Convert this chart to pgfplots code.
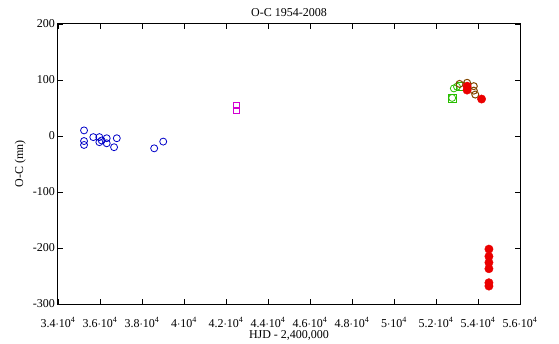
\documentclass[border=0pt]{standalone}
\usepackage{pgfplots}
\pgfplotsset{compat=1.18}
\usepackage{fontspec}
\setmainfont{Liberation Serif}
\definecolor{cblue}{RGB}{0,0,200}
\definecolor{cmag}{RGB}{210,0,210}
\definecolor{cgreen}{RGB}{40,190,0}
\definecolor{cbrown}{RGB}{130,70,0}
\definecolor{cred}{RGB}{235,0,0}
\begin{document}
\fontsize{12pt}{14pt}\selectfont
\begin{tikzpicture}[x=1pt,y=1pt]
\useasboundingbox (-58,-39) rectangle (501,304);
\begin{axis}[
  at={(0,0)}, anchor=south west,
  scale only axis, width=462pt, height=280pt,
  xmin=34000, xmax=56000, ymin=-300, ymax=200,
  scaled x ticks=false,
  xtick={34000,36000,...,56000},
  xticklabels={3.4$\cdot$10\textsuperscript{4},3.6$\cdot$10\textsuperscript{4},3.8$\cdot$10\textsuperscript{4},4$\cdot$10\textsuperscript{4},4.2$\cdot$10\textsuperscript{4},4.4$\cdot$10\textsuperscript{4},4.6$\cdot$10\textsuperscript{4},4.8$\cdot$10\textsuperscript{4},5$\cdot$10\textsuperscript{4},5.2$\cdot$10\textsuperscript{4},5.4$\cdot$10\textsuperscript{4},5.6$\cdot$10\textsuperscript{4}},
  ytick={-300,-200,...,200},
  yticklabels={-300,-200,-100,0,100,200},
  tick align=inside,
  major tick length=5pt,
  tick style={black, line width=0.8pt},
  axis line style={line width=1pt},
  xticklabel style={inner sep=0pt, anchor=base, yshift=-23pt},
  yticklabel style={inner sep=0pt, anchor=east, xshift=-3pt},
  title={O-C 1954-2008},
  title style={at={(axis description cs:0.5,1)}, anchor=base, yshift=1pt, inner sep=0pt},
  xlabel={HJD - 2,400,000},
  xlabel style={at={(axis description cs:0.5,0)}, anchor=base, yshift=-34pt, inner sep=0pt},
  ylabel={O-C (mn)},
  ylabel style={at={(axis description cs:-0.082,0.5)}, anchor=center, inner sep=0pt},
]
\addplot[only marks, mark=o, mark size=3.5pt, cblue, mark options={line width=0.8pt}] coordinates {
(35240,10) (35240,-9) (35240,-16) (35680,-2) (35970,-2) (35970,-11)
(36080,-8) (36320,-4) (36320,-13) (36670,-20) (36800,-4) (38580,-22) (39010,-10)};
\addplot[only marks, mark=square, mark size=3.2pt, cmag, mark options={line width=0.8pt}] coordinates {
(42500,55) (42500,46)};
\addplot[only marks, mark=square, mark size=4pt, cgreen, mark options={line width=0.8pt}] coordinates {
(52770,68) (53150,89)};
\addplot[only marks, mark=o, mark size=3.5pt, cgreen, mark options={line width=0.8pt}] coordinates {
(52770,68) (52850,85) (53000,88)};
\addplot[only marks, mark=o, mark size=3.5pt, cbrown, mark options={line width=1pt}] coordinates {
(53120,93) (53480,95) (53800,89) (53800,81) (53870,74)};
\addplot[only marks, mark=*, mark size=4.2pt, cred, mark options={draw=cred}] coordinates {
(53480,89) (53480,82) (54170,66)
(54520,-202) (54520,-215) (54520,-226) (54520,-237) (54520,-262) (54520,-268)};
\end{axis}
\end{tikzpicture}
\end{document}
